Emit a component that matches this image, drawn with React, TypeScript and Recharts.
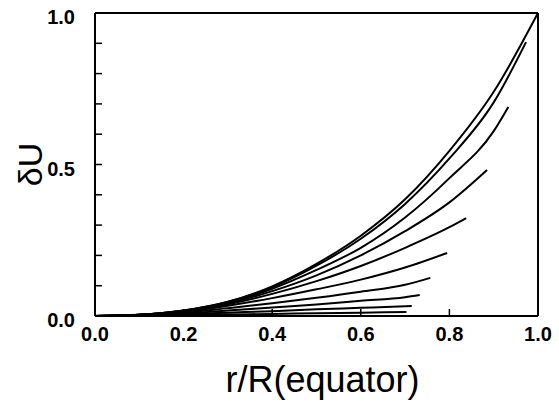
import React from "react";
import { LineChart, Line, XAxis, YAxis, Label } from "recharts";

// δU versus r/R(equator); each curve stops at its own outer radius
const xTicks = [0, 0.2, 0.4, 0.6, 0.8, 1.0];
const yTicks = [0, 0.1, 0.2, 0.3, 0.4, 0.5, 0.6, 0.7, 0.8, 0.9, 1.0];
const yLabelled = [0, 0.5, 1.0];

const curve1: [number, number][] = [
  [0, 0], [0.1, 0.004], [0.2, 0.018], [0.3, 0.047], [0.4, 0.098], [0.5, 0.172],
  [0.6, 0.265], [0.7, 0.385], [0.8, 0.545], [0.9, 0.74], [1.0, 1.0],
];
const curve2: [number, number][] = [
  [0, 0], [0.1, 0.004], [0.2, 0.018], [0.3, 0.046], [0.4, 0.095], [0.5, 0.166],
  [0.6, 0.255], [0.7, 0.37], [0.8, 0.52], [0.9, 0.705], [0.973, 0.904],
];
const curve3: [number, number][] = [
  [0, 0], [0.1, 0.004], [0.2, 0.017], [0.3, 0.044], [0.4, 0.09], [0.5, 0.152],
  [0.6, 0.225], [0.7, 0.325], [0.8, 0.455], [0.9, 0.61], [0.933, 0.69],
];
const curve4: [number, number][] = [
  [0, 0], [0.1, 0.004], [0.2, 0.016], [0.3, 0.042], [0.4, 0.082], [0.5, 0.134],
  [0.6, 0.2], [0.7, 0.28], [0.8, 0.375], [0.885, 0.482],
];
const curve5: [number, number][] = [
  [0, 0], [0.1, 0.004], [0.2, 0.015], [0.3, 0.039], [0.4, 0.073], [0.5, 0.115],
  [0.6, 0.165], [0.7, 0.225], [0.8, 0.293], [0.838, 0.323],
];
const curve6: [number, number][] = [
  [0, 0], [0.1, 0.003], [0.2, 0.013], [0.3, 0.034], [0.4, 0.059], [0.5, 0.088],
  [0.6, 0.12], [0.7, 0.16], [0.795, 0.208],
];
const curve7: [number, number][] = [
  [0, 0], [0.1, 0.003], [0.2, 0.011], [0.3, 0.026], [0.4, 0.042], [0.5, 0.06],
  [0.6, 0.08], [0.7, 0.103], [0.757, 0.126],
];
const curve8: [number, number][] = [
  [0, 0], [0.1, 0.002], [0.2, 0.008], [0.3, 0.018], [0.4, 0.028], [0.5, 0.038],
  [0.6, 0.05], [0.7, 0.062], [0.733, 0.069],
];
const curve9: [number, number][] = [
  [0, 0], [0.1, 0.002], [0.2, 0.006], [0.3, 0.011], [0.4, 0.016], [0.5, 0.022],
  [0.6, 0.027], [0.715, 0.033],
];
const curve10: [number, number][] = [
  [0, 0], [0.1, 0.001], [0.2, 0.003], [0.3, 0.005], [0.4, 0.007], [0.5, 0.009],
  [0.6, 0.011], [0.703, 0.013],
];

const curves = [curve1, curve2, curve3, curve4, curve5, curve6, curve7, curve8, curve9, curve10];

const font = "'Liberation Sans', Arial, Helvetica, sans-serif";

const BottomTick = ({ x, y, payload }: any) => (
  <text x={x} y={y} dy="0.71em" textAnchor="middle" fontFamily={font} fontSize={20} fontWeight="bold" fill="#000">
    {payload.value.toFixed(1)}
  </text>
);

const LeftTick = ({ x, y, payload }: any) => {
  const v = payload.value;
  if (!yLabelled.some((t) => Math.abs(t - v) < 1e-9)) return <g />;
  return (
    <text x={x} y={y + 4} dy="0.355em" textAnchor="end" fontFamily={font} fontSize={20} fontWeight="bold" fill="#000">
      {v.toFixed(1)}
    </text>
  );
};

const blank = () => "";

export default function App() {
  const axisLine = { stroke: "#000", strokeWidth: 2 };
  const tickLine = { stroke: "#000", strokeWidth: 1.5 };
  return (
    <div style={{ position: "absolute", left: 0, top: 0, background: "#fff" }}>
      <LineChart width={559} height={408} margin={{ top: 0, right: 0, bottom: 0, left: 0 }}>
        <XAxis
          xAxisId="b"
          dataKey="0"
          type="number"
          domain={[0, 1]}
          ticks={xTicks}
          orientation="bottom"
          height={92}
          axisLine={axisLine}
          tickLine={tickLine}
          tickSize={-7}
          tickMargin={18}
          tick={<BottomTick />}
          interval={0}
        >
          <Label
            value="r/R(equator)"
            position="insideBottom"
            offset={16}
            dx={6}
            style={{ fontFamily: font, fontSize: 36, fill: "#000" }}
          />
        </XAxis>
        <XAxis
          xAxisId="t"
          dataKey="0"
          type="number"
          domain={[0, 1]}
          ticks={xTicks}
          orientation="top"
          height={13}
          axisLine={axisLine}
          tickLine={tickLine}
          tickSize={-7}
          tickFormatter={blank}
          interval={0}
        />
        <YAxis
          yAxisId="l"
          type="number"
          domain={[0, 1]}
          ticks={yTicks}
          orientation="left"
          width={95}
          axisLine={axisLine}
          tickLine={tickLine}
          tickSize={-7}
          tickMargin={27}
          tick={<LeftTick />}
          interval={0}
        >
          <Label
            content={({ viewBox }: any) => {
              const cy = viewBox.y + viewBox.height / 2;
              return (
                <text
                  x={30}
                  y={cy}
                  transform={`rotate(-90, 30, ${cy})`}
                  textAnchor="middle"
                  dy="0.355em"
                  fontFamily={font}
                  fontSize={34}
                  fill="#000"
                >
                  δU
                </text>
              );
            }}
          />
        </YAxis>
        <YAxis
          yAxisId="r"
          type="number"
          domain={[0, 1]}
          ticks={yTicks}
          orientation="right"
          width={21}
          axisLine={axisLine}
          tickLine={tickLine}
          tickSize={-7}
          tickFormatter={blank}
          interval={0}
        />
        {curves.map((c, i) => (
          <Line
            key={i}
            data={c}
            dataKey="1"
            xAxisId="b"
            yAxisId="l"
            type="monotone"
            stroke="#000"
            strokeWidth={2}
            dot={false}
            isAnimationActive={false}
          />
        ))}
      </LineChart>
    </div>
  );
}
